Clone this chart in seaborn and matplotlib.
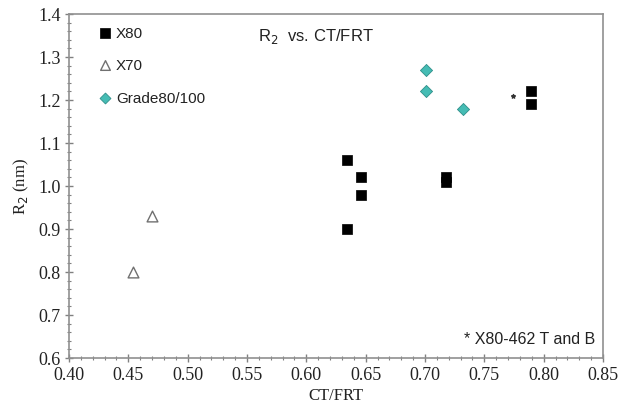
import numpy as np
import pandas as pd
import matplotlib
matplotlib.use('Agg')
import matplotlib.pyplot as plt
from matplotlib.ticker import MultipleLocator
import seaborn as sns

# data
x80_x = [0.634, 0.646, 0.646, 0.634, 0.718, 0.718, 0.789, 0.789]
x80_y = [1.06, 1.02, 0.98, 0.90, 1.02, 1.01, 1.22, 1.19]
x70_x = [0.454, 0.470]
x70_y = [0.80, 0.93]
g80_x = [0.701, 0.701, 0.732]
g80_y = [1.27, 1.22, 1.18]
note_x = [0.774]
note_y = [1.21]

sns.set_style('white')
plt.rcParams['font.family'] = ['Liberation Sans', 'DejaVu Sans']

fig = plt.figure(figsize=(6.18, 4.14), dpi=100)
ax = fig.add_axes([0.1117, 0.1329, 0.864, 0.8309])

sns.scatterplot(x=x80_x, y=x80_y, marker='s', s=55, color='black',
                edgecolor='black', linewidth=0.5, label='X80', ax=ax, zorder=3)
sns.scatterplot(x=x70_x, y=x70_y, marker='^', s=60, facecolor='white',
                edgecolor='#707070', linewidth=1.0, label='X70', ax=ax, zorder=3)
sns.scatterplot(x=g80_x, y=g80_y, marker='D', s=38, color='#45bcb4',
                edgecolor='#2f8f8a', linewidth=0.6, label='Grade80/100', ax=ax, zorder=3)
ax.scatter(note_x, note_y, marker='*', s=8, color='#333333', zorder=3)

ax.set_xlim(0.40, 0.85)
ax.set_ylim(0.6, 1.4)
ax.xaxis.set_major_locator(MultipleLocator(0.05))
ax.xaxis.set_minor_locator(MultipleLocator(0.01))
ax.yaxis.set_major_locator(MultipleLocator(0.1))
ax.yaxis.set_minor_locator(MultipleLocator(0.02))
ax.set_xticklabels([f'{v:.2f}' for v in ax.get_xticks()])
ax.set_yticklabels([f'{v:.1f}' for v in ax.get_yticks()])

serif = ['Liberation Serif', 'DejaVu Serif']
for lab in ax.get_xticklabels() + ax.get_yticklabels():
    lab.set_family(serif)
    lab.set_fontsize(13)
    lab.set_color('#222222')
ax.tick_params(axis='both', which='major', direction='inout', length=6,
               width=1, color='#808080', bottom=True, left=True, pad=3)
ax.tick_params(axis='both', which='minor', direction='inout', length=3,
               width=0.8, color='#808080', bottom=True, left=True)

for sp in ax.spines.values():
    sp.set_color('#909090')
    sp.set_linewidth(1.2)

ax.set_xlabel('CT/FRT', family=serif, fontsize=12, color='#222222', labelpad=3)
ax.set_ylabel('R$_2$ (nm)', family=serif, fontsize=12, color='#222222', labelpad=5)

ax.text(0.354, 0.965, 'R$_2$  vs. CT/FRT', transform=ax.transAxes,
        fontsize=12, color='#222222', va='top', ha='left')
ax.text(0.985, 0.035, '* X80-462 T and B', transform=ax.transAxes,
        fontsize=11.5, color='#222222', va='bottom', ha='right')

ax.legend(loc='upper left', bbox_to_anchor=(0.028, 1.005), frameon=False,
          fontsize=11, handletextpad=0.2, labelspacing=1.2, markerscale=0.9,
          handlelength=1.0, labelcolor='#222222')

fig.savefig('out.png', dpi=100)
